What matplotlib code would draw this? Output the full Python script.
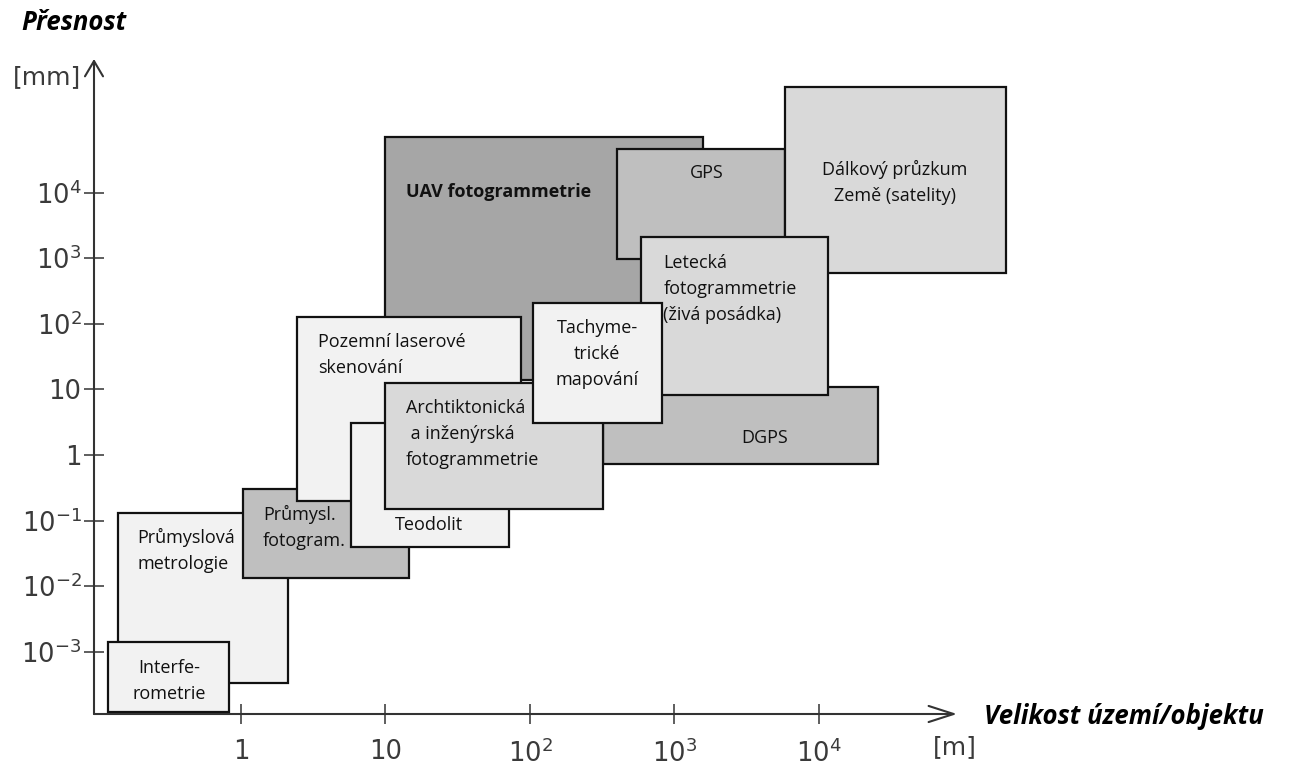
import matplotlib.pyplot as plt
from matplotlib.patches import Rectangle

# Methods in drawing order (back to front), size range [m], accuracy range [mm]
methods = ['UAV fotogrammetrie', 'GPS', 'Dálkový průzkum\nZemě (satelity)', 'DGPS',
           'Letecká\nfotogrammetrie\n(živá posádka)', 'Průmyslová\nmetrologie',
           'Interfe-\nrometrie', 'Průmysl.\nfotogram.', 'Pozemní laserové\nskenování',
           'Teodolit', 'Archtiktonická\n a inženýrská\nfotogrammetrie',
           'Tachyme-\ntrické\nmapování']
size_min = [9.9, 400, 5800, 320, 590, 0.14, 0.12, 1.03, 2.45, 5.8, 9.9, 105]
size_max = [1580, 5800, 197000, 25600, 11500, 2.1, 0.83, 14.5, 87, 72, 320, 820]
acc_min = [14, 970, 600, 0.73, 8.2, 0.00033, 0.00012, 0.0133, 0.2, 0.04, 0.15, 3.1]
acc_max = [70000, 46000, 410000, 10.9, 2100, 0.13, 0.0014, 0.30, 127, 3.1, 12.5, 207]

x_ticks = [1, 10, 100, 1000, 10000]
x_labels = ['1', '10', '$10^2$', '$10^3$', '$10^4$']
y_ticks = [1e-3, 1e-2, 1e-1, 1, 10, 100, 1e3, 1e4]
y_labels = ['$10^{-3}$', '$10^{-2}$', '$10^{-1}$', '1', '10', '$10^2$', '$10^3$', '$10^4$']

# styles: fill colour, label alignment, label offset from top-left corner (px)
colors = ['#a6a6a6', '#bfbfbf', '#d9d9d9', '#bfbfbf', '#d9d9d9', '#f2f2f2',
          '#f2f2f2', '#bfbfbf', '#f2f2f2', '#f2f2f2', '#d9d9d9', '#f2f2f2']
aligns = ['left', 'center', 'center', 'center', 'left', 'left',
          'center', 'left', 'left', 'left', 'left', 'center']
offsets = [(21, 55), (90, 24), (110, 96), (162, 51), (22, 52), (20, 37),
           (61, 39), (20, 38), (21, 38), (44, 102), (21, 51), (64, 51)]

W, H = 1290, 769
fig = plt.figure(figsize=(W / 100, H / 100), dpi=100)
# axes box: left 94px, right 957px, top 59px, bottom 714px
ax = fig.add_axes([94 / W, (H - 714) / H, (957 - 94) / W, (714 - 59) / H])
ax.set_xscale('log')
ax.set_yscale('log')
ax.set_xlim(10 ** -1.017, 10 ** 4.955)
ax.set_ylim(10 ** -3.948, 10 ** 6.037)

box_font = ['Open Sans', 'DejaVu Sans']
for i, name in enumerate(methods):
    rect = Rectangle((size_min[i], acc_min[i]), size_max[i] - size_min[i],
                     acc_max[i] - acc_min[i], facecolor=colors[i],
                     edgecolor='#111111', linewidth=1.6, zorder=2 + i, clip_on=False)
    ax.add_patch(rect)
    dx, dy = offsets[i]
    ax.annotate(name, xy=(size_min[i], acc_max[i]), xytext=(dx, -dy),
                textcoords='offset pixels', ha=aligns[i], va='center',
                multialignment=aligns[i], fontsize=13, family=box_font,
                fontweight='bold' if i == 0 else 'normal', color='#111111',
                linespacing=1.55, zorder=2.5 + i, annotation_clip=False)

for s in ax.spines.values():
    s.set_visible(False)

ax.minorticks_off()
ax.set_xticks(x_ticks)
ax.set_xticklabels(x_labels)
ax.set_yticks(y_ticks)
ax.set_yticklabels(y_labels)
ax.tick_params(axis='both', direction='inout', length=14, width=1.1,
               color='#333333', labelcolor='#3a3a3a', labelsize=18.5)
ax.tick_params(axis='x', pad=11)
ax.tick_params(axis='y', pad=2)
for lab in ax.get_xticklabels() + ax.get_yticklabels():
    lab.set_family('DejaVu Sans')

# axis lines with open arrow heads
ax.annotate('', xy=(1, 0), xytext=(0, 0), xycoords='axes fraction',
            arrowprops=dict(arrowstyle='->, head_length=1.8, head_width=0.58',
                            color='#333333', lw=1.5, shrinkA=0, shrinkB=0), zorder=20)
ax.annotate('', xy=(0, 1), xytext=(0, 0), xycoords='axes fraction',
            arrowprops=dict(arrowstyle='->, head_length=1.1, head_width=0.65',
                            color='#333333', lw=1.5, shrinkA=0, shrinkB=0), zorder=20)

fig.text(21 / W, 1 - 23 / H, 'Přesnost', fontsize=18.5, fontweight='bold',
         fontstyle='italic', family=box_font, ha='left', va='center')
fig.text(984 / W, 1 - 716 / H, 'Velikost území/objektu', fontsize=18.5,
         fontweight='bold', fontstyle='italic', family=box_font, ha='left', va='center')
fig.text(81 / W, 1 - 77 / H, '[mm]', fontsize=18, family='DejaVu Sans',
         color='#3a3a3a', ha='right', va='center')
fig.text(955 / W, 1 - 747 / H, '[m]', fontsize=18, family='DejaVu Sans',
         color='#3a3a3a', ha='center', va='center')

fig.savefig('out.png', dpi=100)
